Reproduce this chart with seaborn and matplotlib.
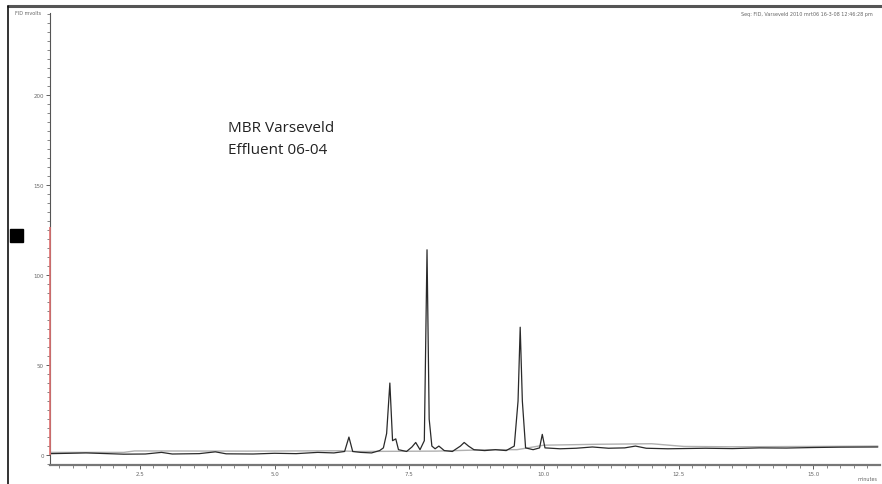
import matplotlib.pyplot as plt
import matplotlib.patches as mpatches
from matplotlib.ticker import MultipleLocator
import pandas as pd
import seaborn as sns

# Chromatogram trace (minutes, mV)
time = [0.85, 1.2, 1.5, 1.8, 2.2, 2.6, 2.9, 3.1, 3.6, 3.9, 4.1, 4.6, 5.0, 5.4, 5.8,
        6.1, 6.3, 6.38, 6.45, 6.6, 6.8, 6.95, 7.02, 7.08, 7.14, 7.19, 7.25, 7.3,
        7.45, 7.55, 7.62, 7.7, 7.78, 7.83, 7.87, 7.92, 7.98, 8.05, 8.15, 8.3,
        8.45, 8.52, 8.6, 8.7, 8.9, 9.1, 9.3, 9.45, 9.52, 9.56, 9.6, 9.66, 9.8,
        9.92, 9.97, 10.02, 10.3, 10.6, 10.9, 11.2, 11.5, 11.7, 11.9, 12.3, 13.0,
        13.5, 14.0, 14.5, 15.0, 15.5, 16.2]
signal = [0.8, 1.0, 1.2, 0.9, 0.5, 0.6, 1.5, 0.6, 0.8, 1.8, 0.7, 0.6, 1.0, 0.8, 1.5,
          1.2, 2.0, 10.0, 2.0, 1.5, 1.2, 2.5, 4.0, 12.0, 40.0, 8.0, 9.0, 3.0,
          2.0, 4.5, 7.0, 3.0, 8.0, 114.0, 20.0, 5.0, 3.5, 5.0, 2.5, 2.0,
          5.0, 7.0, 5.0, 3.0, 2.5, 3.0, 2.5, 5.0, 30.0, 71.0, 30.0, 4.0, 3.0,
          4.0, 11.5, 4.0, 3.5, 3.8, 4.5, 3.8, 4.0, 5.0, 3.8, 3.5, 3.8,
          3.6, 4.0, 3.9, 4.2, 4.4, 4.5]

# Second (lighter) overlaid trace
time2 = [0.85, 2.2, 2.4, 4.5, 6.2, 6.5, 8.0, 9.0, 9.5, 10.0, 11.0, 12.0, 12.6, 13.5, 15.0, 16.2]
signal2 = [1.5, 1.5, 2.3, 2.2, 2.4, 2.0, 2.2, 3.0, 3.0, 5.5, 6.0, 6.3, 4.8, 4.6, 4.8, 5.0]

x_ticks = [2.5, 5.0, 7.5, 10.0, 12.5, 15.0]
y_ticks = [0, 50, 100, 150, 200]

df = pd.DataFrame({'time': time, 'signal': signal})
df2 = pd.DataFrame({'time': time2, 'signal': signal2})

sns.set_style('white')
fig = plt.figure(figsize=(8.82, 4.85), dpi=100)
ax = fig.add_axes([0.0567, 0.0392, 0.941, 0.932])

sns.lineplot(x='time', y='signal', data=df2, ax=ax, color='#b0b0b0', linewidth=1.0)
sns.lineplot(x='time', y='signal', data=df, ax=ax, color='#2a2a2a', linewidth=0.9)

ax.set_xlim(0.83, 16.24)
ax.set_ylim(-5.5, 245.5)
ax.set_xlabel('')
ax.set_ylabel('')

ax.set_xticks(x_ticks)
ax.set_xticklabels([f'{v:.1f}' for v in x_ticks])
ax.xaxis.set_minor_locator(MultipleLocator(0.25))
ax.set_yticks(y_ticks)
ax.set_yticklabels([str(v) for v in y_ticks])
ax.yaxis.set_minor_locator(MultipleLocator(5))
ax.tick_params(axis='both', which='major', labelsize=4, length=3, width=0.6,
               color='#444444', labelcolor='#666666', pad=1.5, direction='out',
               left=True, bottom=True)
ax.tick_params(axis='both', which='minor', length=2, width=0.5, color='#555555',
               left=True, bottom=True)

for s in ['top', 'right']:
    ax.spines[s].set_visible(False)
ax.spines['left'].set_color('#555555')
ax.spines['left'].set_linewidth(0.8)
ax.spines['bottom'].set_color('#777777')
ax.spines['bottom'].set_linewidth(1.6)

# red segment of the signal axis
ax.vlines(0.83, 0, 126.7, color='#e07070', linewidth=1.2, clip_on=False, zorder=5)

fig.text(228 / 882, 1 - 121 / 485, 'MBR Varseveld\nEffluent 06-04',
         fontsize=11, color='#222222', family='Open Sans', linespacing=1.6,
         va='top', ha='left')

fig.text(0.017, 0.972, 'FID mvolts', fontsize=3.5, color='#666666', va='center')
fig.text(0.99, 0.971, 'Seq: FID, Varseveld 2010 mrt06 16-3-08 12:46:28 pm',
         fontsize=3.5, color='#666666', ha='right', va='center')
fig.text(0.995, 0.012, 'minutes', fontsize=3.5, color='#666666', ha='right', va='center')

# frame and marker
fig.add_artist(plt.Line2D([8 / 882, 1], [1 - 7 / 485] * 2, transform=fig.transFigure,
                          color='#555555', linewidth=2.2))
fig.add_artist(plt.Line2D([8 / 882] * 2, [0, 1 - 7 / 485], transform=fig.transFigure,
                          color='#111111', linewidth=1.2))
fig.add_artist(mpatches.Rectangle((10 / 882, 1 - 243 / 485), 13 / 882, 13 / 485,
                                  transform=fig.transFigure, color='black'))

fig.savefig('out.png', dpi=100)
